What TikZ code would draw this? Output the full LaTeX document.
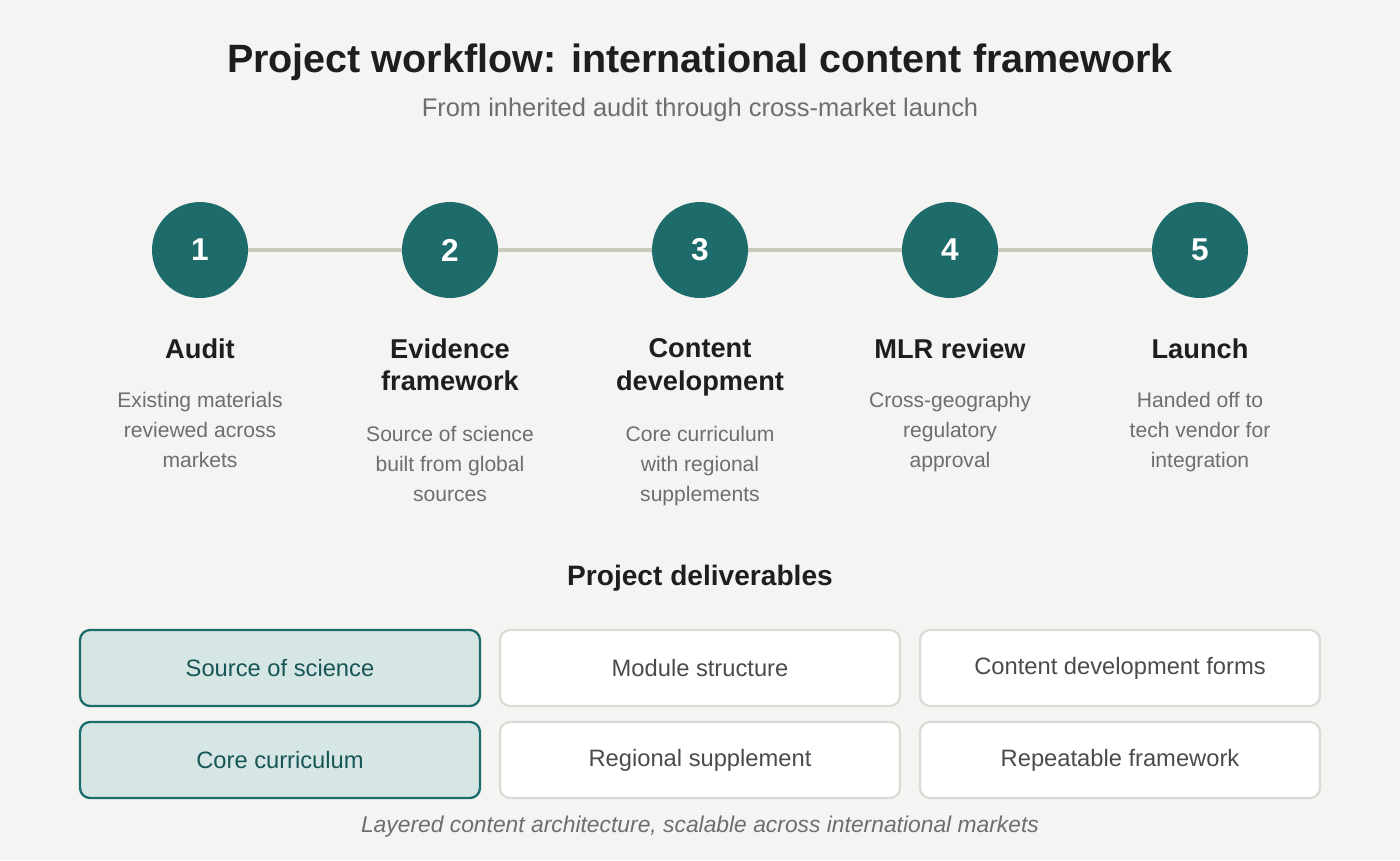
\documentclass[tikz,border=0pt]{standalone}
\usepackage{fontspec}
\setmainfont{Liberation Sans}
\usetikzlibrary{positioning}
\definecolor{tealc}{HTML}{1D6B6B}
\definecolor{rail}{HTML}{C9C9B9}
\definecolor{paper}{HTML}{F4F4F2}
\definecolor{ink}{HTML}{1E1E1E}
\definecolor{soft}{HTML}{6E6E6E}
\definecolor{edge}{HTML}{DCDCD6}
\definecolor{tealfill}{HTML}{D6E6E4}
\tikzset{
  stage/.style={circle, fill=tealc, minimum size=1.92cm, inner sep=0pt, text=white, font=\fontsize{18}{18}\selectfont\bfseries},
  head/.style={anchor=north, align=center, text=ink, inner sep=0pt, font=\fontsize{15.5}{18.7}\selectfont\bfseries},
  desc/.style={anchor=north, align=center, text=soft, inner sep=0pt, font=\fontsize{12}{17}\selectfont},
  card/.style={rounded corners=0.2cm, draw=edge, line width=1.3pt, fill=white, minimum width=8cm, minimum height=1.52cm, text=ink!80, font=\fontsize{13.5}{16}\selectfont},
  core/.style={card, draw=tealc, fill=tealfill, text=tealc!80!black}
}
\begin{document}
\begin{tikzpicture}[x=0.02cm, y=-0.02cm]
		\fill[paper] (0, 0) rectangle (1400, 860);
		\node(title)[text=ink, font=\fontsize{22.5}{24}\selectfont\bfseries] at (700, 62) {Project workflow: international content framework};
		\node(subtitle)[text=soft, font=\fontsize{14.5}{16}\selectfont] at (700, 110) {From inherited audit through cross-market launch};
		\draw[rail, line width=2.3pt] (200, 250) -- (1200, 250);
		\node(s1)[stage] at (200, 250) {1};
		\node(s2)[stage] at (450, 250) {2};
		\node(s3)[stage] at (700, 250) {3};
		\node(s4)[stage] at (950, 250) {4};
		\node(s5)[stage] at (1200, 250) {5};
		\node(h1)[head] at (200, 338) {Audit};
		\node(h2)[head] at (450, 338) {Evidence\\framework};
		\node(h3)[head] at (700, 338) {Content\\development};
		\node(h4)[head] at (950, 338) {MLR review};
		\node(h5)[head] at (1200, 338) {Launch};
		\node(d1)[desc] at (200, 392) {Existing materials\\reviewed across\\markets};
		\node(d2)[desc] at (450, 426) {Source of science\\built from global\\sources};
		\node(d3)[desc] at (700, 426) {Core curriculum\\with regional\\supplements};
		\node(d4)[desc] at (950, 392) {Cross-geography\\regulatory\\approval};
		\node(d5)[desc] at (1200, 392) {Handed off to\\tech vendor for\\integration};
		\node(deliv)[text=ink, font=\fontsize{16}{18}\selectfont\bfseries] at (700, 578) {Project deliverables};
		\node(b1)[core] at (280, 668) {Source of science};
		\node(b2)[card] at (700, 668) {Module structure};
		\node(b3)[card] at (1120, 668) {Content development forms};
		\node(b4)[core] at (280, 760) {Core curriculum};
		\node(b5)[card] at (700, 760) {Regional supplement};
		\node(b6)[card] at (1120, 760) {Repeatable framework};
		\node(caption)[text=soft, font=\fontsize{13}{15}\selectfont\itshape] at (700, 827) {Layered content architecture, scalable across international markets};
		\end{tikzpicture}
\end{document}
